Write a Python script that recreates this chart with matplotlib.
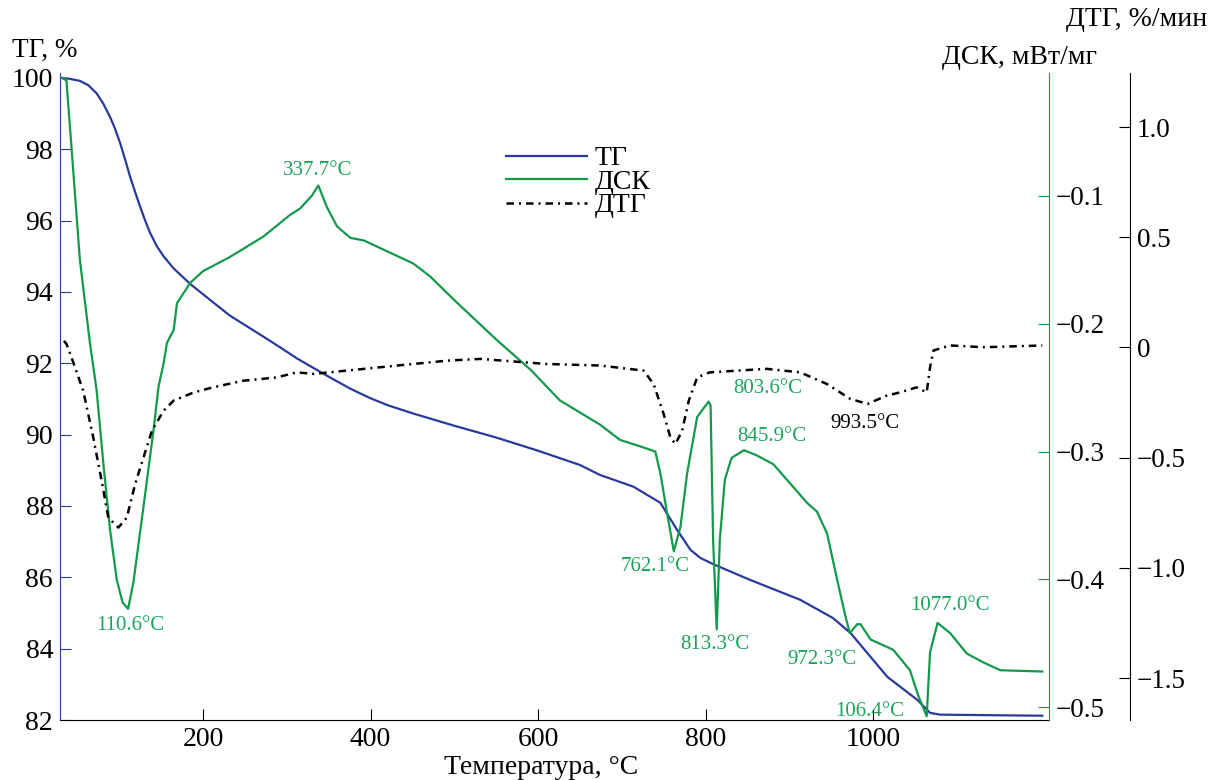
import numpy as np
import matplotlib
matplotlib.use('Agg')
import matplotlib.pyplot as plt

plt.rcParams['font.family'] = ['Liberation Serif', 'DejaVu Serif']

# TG curve, %
T_tg = [31, 40, 53, 63, 73, 81, 89, 95, 101, 107, 113, 119, 125, 131, 137, 145, 153, 165,
        185, 210, 232, 272, 292, 312, 343, 352, 375, 399, 420, 450, 500, 550, 600, 650, 674,
        714, 746, 766, 782, 794, 811, 853, 913, 952, 973, 1017, 1053, 1068, 1080, 1120,
        1160, 1202]
tg = [100.0, 99.98, 99.92, 99.8, 99.57, 99.28, 98.91, 98.58, 98.18, 97.72, 97.23, 96.8,
      96.39, 96.0, 95.65, 95.28, 95.0, 94.66, 94.22, 93.75, 93.34, 92.75, 92.45, 92.14,
      91.72, 91.6, 91.3, 91.03, 90.83, 90.6, 90.25, 89.92, 89.55, 89.15, 88.87, 88.54,
      88.09, 87.33, 86.77, 86.54, 86.35, 85.93, 85.37, 84.86, 84.44, 83.21, 82.56, 82.2,
      82.15, 82.14, 82.13, 82.12]

# DSC curve, mW/mg
T_dsc = [32, 37, 43, 53, 65, 73, 81, 89, 97, 104, 110.6, 117, 129, 141, 147, 153, 157, 165,
         169, 185, 200, 232, 272, 304, 316, 330, 337.7, 348, 360, 376, 392, 451, 471, 499,
         551, 591, 626, 674, 698, 722, 740, 746, 754, 762.1, 770, 778, 790, 803.6, 806, 809,
         813.3, 817, 823, 831, 845.9, 861, 881, 897, 921, 933, 945, 957, 967, 972.3, 981,
         985, 997, 1024, 1044, 1054, 1064, 1068, 1077, 1092, 1112, 1132, 1152, 1202]
dsc = [-0.008, -0.010, -0.062, -0.150, -0.215, -0.252, -0.309, -0.361, -0.400, -0.418,
       -0.423, -0.402, -0.343, -0.283, -0.249, -0.231, -0.215, -0.205, -0.184, -0.168,
       -0.159, -0.148, -0.132, -0.115, -0.110, -0.100, -0.092, -0.109, -0.124, -0.133,
       -0.135, -0.153, -0.163, -0.181, -0.213, -0.236, -0.260, -0.279, -0.291, -0.296,
       -0.300, -0.317, -0.348, -0.378, -0.359, -0.317, -0.273, -0.261, -0.264, -0.369,
       -0.439, -0.369, -0.322, -0.305, -0.299, -0.303, -0.310, -0.322, -0.340, -0.347,
       -0.364, -0.400, -0.429, -0.442, -0.435, -0.435, -0.447, -0.455, -0.471, -0.491,
       -0.507, -0.457, -0.434, -0.442, -0.458, -0.465, -0.471, -0.472]

# DTG curve, %/min
T_dtg = [34, 37, 43, 57, 69, 79, 87, 99, 109, 119, 129, 139, 153, 165, 189, 212, 248, 288,
         312, 332, 411, 491, 531, 610, 674, 726, 738, 750, 758, 764, 772, 780, 790, 805,
         873, 913, 945, 973, 993.5, 1016, 1032, 1052, 1064, 1068, 1072, 1092, 1132, 1202]
dtg = [0.03, 0.016, -0.045, -0.196, -0.408, -0.605, -0.772, -0.817, -0.772, -0.620,
       -0.499, -0.378, -0.287, -0.241, -0.204, -0.181, -0.151, -0.136, -0.113, -0.120,
       -0.090, -0.060, -0.052, -0.075, -0.082, -0.105, -0.166, -0.302, -0.408, -0.438,
       -0.378, -0.241, -0.136, -0.113, -0.097, -0.113, -0.166, -0.234, -0.256, -0.219,
       -0.204, -0.181, -0.204, -0.090, -0.014, 0.009, 0.001, 0.009]

# peak labels (text, T, value)
dsc_labels = [('337.7°C', 337.4, -0.080), ('110.6°C', 112.9, -0.436),
              ('762.1°C', 739.8, -0.390), ('803.6°C', 874.7, -0.251),
              ('845.9°C', 879.5, -0.2885), ('813.3°C', 811.4, -0.451),
              ('972.3°C', 939.1, -0.4627), ('106.4°C', 996.5, -0.5033),
              ('1077.0°C', 1092.0, -0.4205)]
dtg_labels = [('993.5°C', 990.5, -0.346)]

blue = '#2a3a9c'
green = '#13994c'
gtext = '#1aa35a'

fig = plt.figure(figsize=(12.1, 7.8), dpi=100)
ax = fig.add_axes([60 / 1210, 60 / 780, 989 / 1210, 647 / 780])
ax2 = ax.twinx()
ax3 = ax.twinx()

l1, = ax.plot(T_tg, tg, color=blue, lw=1.6, label='ТГ')
l2, = ax2.plot(T_dsc, dsc, color=green, lw=1.6, label='ДСК')
l3, = ax3.plot(T_dtg, dtg, color='black', lw=1.8, ls=(0, (3, 2, 0.8, 2)), label='ДТГ')

ax.set_xlim(29.3, 1210)
ax.set_ylim(82, 100.14)
ax2.set_ylim(-0.5099, -0.0041)
ax3.set_ylim(-1.69, 1.245)

ax.set_xticks([200, 400, 600, 800, 1000])
ax.set_yticks(np.arange(82, 101, 2))
ax2.set_yticks([-0.1, -0.2, -0.3, -0.4, -0.5])
ax2.set_yticklabels(['−0.1', '−0.2', '−0.3', '−0.4', '−0.5'])
ax3.set_yticks([1.0, 0.5, 0, -0.5, -1.0, -1.5])
ax3.set_yticklabels(['1.0', '0.5', '0', '−0.5', '−1.0', '−1.5'])

for a in (ax, ax2, ax3):
    a.spines['top'].set_visible(False)
ax.spines['right'].set_visible(False)
ax.spines['left'].set_color(blue)
ax.spines['bottom'].set_color('black')
ax2.spines['left'].set_visible(False)
ax2.spines['bottom'].set_visible(False)
ax2.spines['right'].set_color(green)
ax3.spines['left'].set_visible(False)
ax3.spines['bottom'].set_visible(False)
ax3.spines['right'].set_position(('axes', 1.082))
ax3.spines['right'].set_color('black')

ax.tick_params(axis='y', direction='in', length=8, color=blue, labelsize=20, pad=5)
ax.tick_params(axis='x', direction='in', length=8, color='black', labelsize=20, pad=5)
ax2.tick_params(axis='y', direction='in', length=8, color=green, labelsize=19.5, pad=5)
ax3.tick_params(axis='y', direction='in', length=8, color='black', labelsize=19.5, pad=5)

for txt, x, y in dsc_labels:
    ax2.text(x, y, txt, color=gtext, fontsize=15, ha='center', va='center')
for txt, x, y in dtg_labels:
    ax3.text(x, y, txt, color='black', fontsize=15, ha='center', va='center')

fig.text(541 / 1210, 1 - 768 / 780, 'Температура, °C', fontsize=20, ha='center', va='center')
fig.text(12 / 1210, 1 - 50 / 780, 'ТГ, %', fontsize=19.5, ha='left', va='center')
fig.text(1207 / 1210, 1 - 20 / 780, 'ДТГ, %/мин', fontsize=20, ha='right', va='center')
fig.text(942 / 1210, 1 - 57 / 780, 'ДСК, мВт/мг', fontsize=20, ha='left', va='center')

fig.legend(handles=[l1, l2, l3], loc='upper left', bbox_to_anchor=(506 / 1210, 1 - 146 / 780),
           frameon=False, fontsize=20, handlelength=2.9, handletextpad=0.3,
           labelspacing=-0.07, borderpad=0, borderaxespad=0)

fig.savefig('out.png', dpi=100)
